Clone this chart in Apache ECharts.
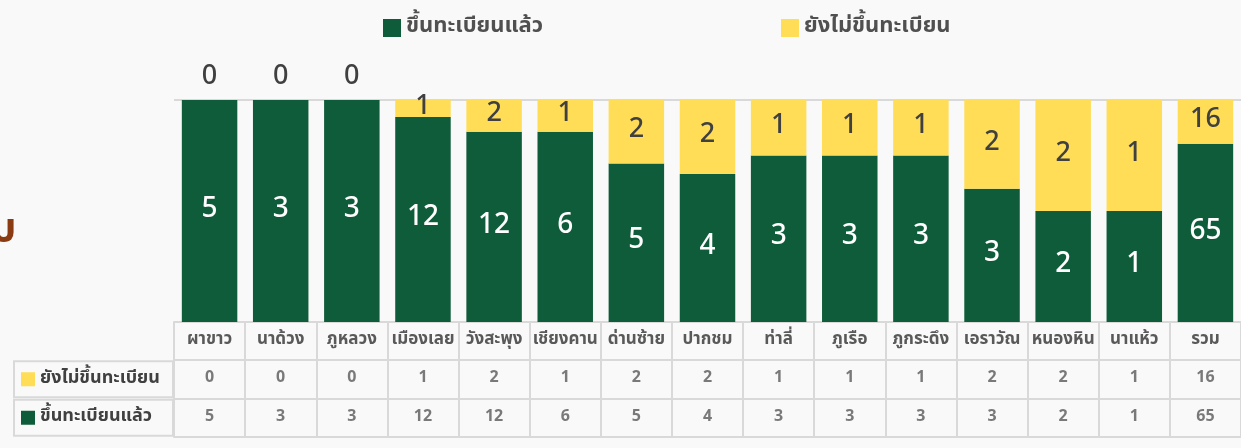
<!DOCTYPE html>
<html>
<head>
<meta charset="utf-8">
<script src="https://cdn.jsdelivr.net/npm/echarts@6/dist/echarts.min.js"></script>
<style>
  html, body { margin: 0; padding: 0; }
  #main { width: 1241px; height: 448px; }
</style>
</head>
<body>
<div id="main"></div>
<script>
var districts = ['ผาขาว', 'นาด้วง', 'ภูหลวง', 'เมืองเลย', 'วังสะพุง', 'เชียงคาน', 'ด่านซ้าย', 'ปากชม',
  'ท่าลี่', 'ภูเรือ', 'ภูกระดึง', 'เอราวัณ', 'หนองหิน', 'นาแห้ว', 'รวม'];
var registered = [5, 3, 3, 12, 12, 6, 5, 4, 3, 3, 3, 3, 2, 1, 65];
var notRegistered = [0, 0, 0, 1, 2, 1, 2, 2, 1, 1, 1, 2, 2, 1, 16];
var rowNames = ['ขึ้นทะเบียนแล้ว', 'ยังไม่ขึ้นทะเบียน'];

var GREEN = '#0f5c3a';
var YELLOW = '#ffdd57';
var LINE = '#d9d9d9';
var FONT = "'Noto Sans Thai', 'Noto Sans', sans-serif";

// 100% stacked shares
function share(arr, i) {
  return arr[i] / (registered[i] + notRegistered[i]) * 100;
}
var regData = registered.map(function (v, i) { return share(registered, i); });
var unregData = notRegistered.map(function (v, i) {
  var item = { value: share(notRegistered, i) };
  if (v === 0) {
    item.label = { position: 'top', distance: 8 };
  }
  return item;
});

// table cells: [district, row, value]
var tableData = [];
districts.forEach(function (d, i) {
  tableData.push([i, 0, registered[i]]);
  tableData.push([i, 1, notRegistered[i]]);
});

var myChart = echarts.init(document.getElementById('main'));
myChart.setOption({
  backgroundColor: '#f8f9f8',
  textStyle: { fontFamily: FONT },
  graphic: [{
    type: 'text', left: -9, top: 213,
    style: { text: 'บ', font: 'bold 40px ' + FONT, fill: '#8a3b12' }
  }],
  legend: [{
    data: ['ขึ้นทะเบียนแล้ว'], left: 378, top: 12,
    itemWidth: 18, itemHeight: 18, icon: 'rect',
    textStyle: { fontSize: 22, fontWeight: 'bold', color: '#505050', fontFamily: FONT }
  }, {
    data: ['ยังไม่ขึ้นทะเบียน'], left: 776, top: 12,
    itemWidth: 18, itemHeight: 18, icon: 'rect',
    textStyle: { fontSize: 22, fontWeight: 'bold', color: '#505050', fontFamily: FONT }
  }],
  grid: [
    { left: 174, top: 100, width: 1074, height: 222 },
    { left: 174, top: 360, width: 1074, height: 77 }
  ],
  xAxis: [{
    type: 'category', gridIndex: 0, data: districts,
    axisLine: { lineStyle: { color: LINE, width: 2 } },
    axisTick: { show: false },
    axisLabel: { show: false }
  }, {
    type: 'category', gridIndex: 1, data: districts, position: 'top',
    axisLine: { lineStyle: { color: LINE, width: 2 } },
    axisTick: { show: true, interval: 0, length: 38, lineStyle: { color: LINE, width: 2 } },
    axisLabel: { interval: 0, margin: 11, fontSize: 17, fontWeight: 'bold', color: '#595959' },
    splitLine: { show: true, interval: 0, lineStyle: { color: LINE, width: 2 } }
  }],
  yAxis: [{
    type: 'value', gridIndex: 0, min: 0, max: 100, interval: 100,
    axisLabel: { show: false },
    axisLine: { show: false },
    splitLine: { lineStyle: { color: LINE, width: 2 } }
  }, {
    type: 'category', gridIndex: 1, data: rowNames,
    axisLine: { show: true, lineStyle: { color: LINE, width: 2 } },
    axisTick: { show: false },
    splitLine: { show: true, interval: 0, lineStyle: { color: LINE, width: 2 } },
    axisLabel: {
      interval: 0, hideOverlap: false,
      align: 'left', verticalAlign: 'middle', margin: 160,
      width: 152, padding: [7, 0, 7, 7],
      borderColor: LINE, borderWidth: 2,
      formatter: function (v, i) {
        return '{' + (i === 0 ? 'g' : 'y') + '|}{t|' + v + '}';
      },
      rich: {
        g: { width: 14, height: 14, backgroundColor: GREEN },
        y: { width: 14, height: 14, backgroundColor: YELLOW },
        t: { fontSize: 18, lineHeight: 22, fontWeight: 'bold', color: '#404040', padding: [0, 0, 0, 5] }
      }
    }
  }],
  series: [{
    name: 'ขึ้นทะเบียนแล้ว', type: 'bar', stack: 'all', data: regData,
    xAxisIndex: 0, yAxisIndex: 0,
    barCategoryGap: '22%',
    itemStyle: { color: GREEN },
    label: {
      show: true, position: 'inside', color: '#fff', fontSize: 28, fontWeight: 500,
      formatter: function (p) { return registered[p.dataIndex]; }
    }
  }, {
    name: 'ยังไม่ขึ้นทะเบียน', type: 'bar', stack: 'all', data: unregData,
    xAxisIndex: 0, yAxisIndex: 0,
    itemStyle: { color: YELLOW },
    label: {
      show: true, position: 'inside', color: '#404040', fontSize: 27, fontWeight: 500,
      formatter: function (p) { return notRegistered[p.dataIndex]; }
    }
  }, {
    type: 'scatter', xAxisIndex: 1, yAxisIndex: 1, data: tableData,
    symbolSize: 1, silent: true,
    itemStyle: { color: 'rgba(0,0,0,0)' },
    label: {
      show: true, position: 'inside', fontSize: 16, fontWeight: 'bold', color: '#595959',
      formatter: function (p) { return p.value[2]; }
    }
  }]
});
</script>
</body>
</html>
